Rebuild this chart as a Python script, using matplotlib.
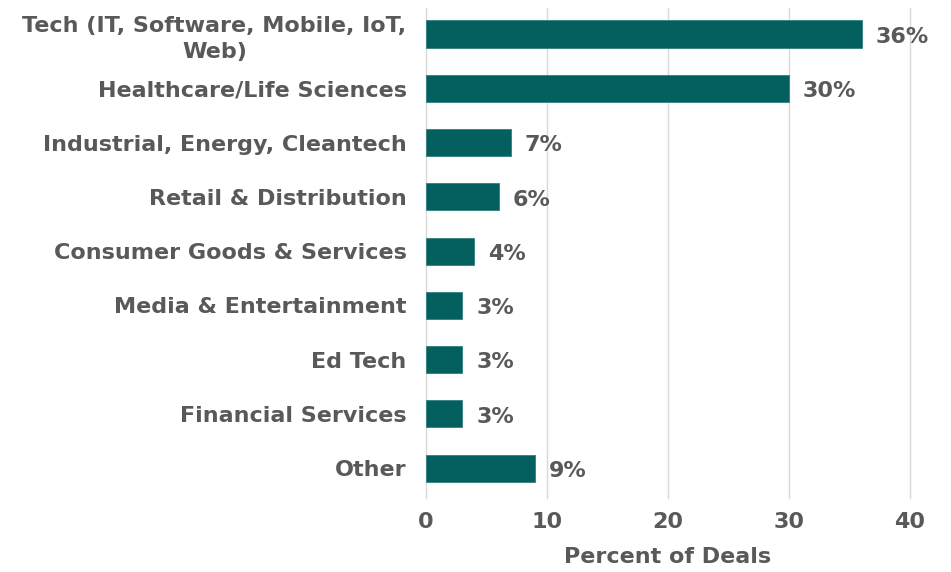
import matplotlib
matplotlib.use("Agg")
import matplotlib.pyplot as plt

categories = ["Tech (IT, Software, Mobile, IoT,\nWeb)", "Healthcare/Life Sciences",
              "Industrial, Energy, Cleantech", "Retail & Distribution",
              "Consumer Goods & Services", "Media & Entertainment", "Ed Tech",
              "Financial Services", "Other"]
values = [36, 30, 7, 6, 4, 3, 3, 3, 9]
xticks = [0, 10, 20, 30, 40]

plt.rcParams['font.family'] = ['DejaVu Sans']
gray = '#595959'
teal = '#03605F'
fs = 16

W, H = 951, 572
fig = plt.figure(figsize=(W/100, H/100), dpi=100)
left, right, top, bottom = 426, 910, 8, 498
ax = fig.add_axes([left/W, 1-bottom/H, (right-left)/W, (bottom-top)/H])

y = list(range(len(categories)))
ax.barh(y, values, height=0.5, color=teal, edgecolor='#2f7f7e', linewidth=0.6, zorder=3)
for yi, v in zip(y, values):
    ax.annotate(f"{v}%", (v, yi), xytext=(10, -2), textcoords='offset points',
                va='center', ha='left', fontsize=fs, fontweight='bold', color=gray)

ax.set_xlim(0, 40)
ax.set_ylim(8.55, -0.48)
ax.set_xticks(xticks)
ax.set_xticklabels([str(t) for t in xticks])
ax.set_yticks(y)
ax.set_yticklabels(categories, ha='right', multialignment='center', linespacing=1.35)
for s in ax.spines.values():
    s.set_visible(False)
for xt in xticks:
    ax.axvline(xt, color='#d9d9d9', linewidth=1, zorder=0, clip_on=False)
ax.tick_params(axis='both', length=0, labelsize=fs, colors=gray)
ax.tick_params(axis='y', pad=14)
ax.tick_params(axis='x', pad=10)
for lab in ax.get_xticklabels() + ax.get_yticklabels():
    lab.set_fontweight('bold')
ax.set_xlabel("Percent of Deals", fontsize=fs, fontweight='bold', color=gray, labelpad=11)

fig.savefig("out.png", dpi=100)
